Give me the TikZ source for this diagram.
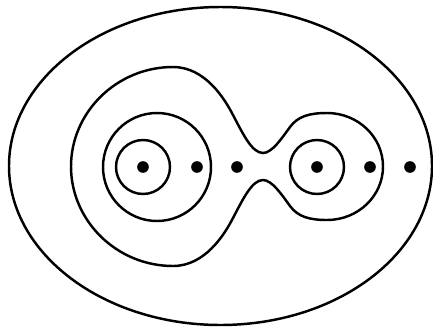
\documentclass[tikz,border=0pt]{standalone}
\usetikzlibrary{positioning}

\begin{document}
\begin{tikzpicture}[
    x=0.03cm, y=-0.03cm,
    puncture/.style={circle, fill=black, inner sep=0pt, minimum size=0.35cm},
    loop/.style={draw=black, line width=2.1pt}]
  \useasboundingbox (0,0) rectangle (433,329);
  %% Punctures on the real axis
  \foreach \n/\x in {p1/143,p2/197,p3/237,p4/317,p5/370,p6/410}
    \node[puncture] (\n) at (\x,167) {};
  %% Small loops
  \draw[loop] (p1) circle[radius=27];
  \draw[loop] (p4) circle[radius=27];
  \draw[loop] (157,167) circle[radius=54];
  %% Peanut curve round both groups
  \draw[loop] (71,166.5) .. controls (71,112) and (117,67) .. (173,67)
    .. controls (205,67) and (224.5,98.5) .. (233,115)
    .. controls (243,134) and (252,153) .. (263,153)
    .. controls (272,153) and (282,138) .. (290,127)
    .. controls (298,116) and (310,113) .. (327,113)
    .. controls (358,113) and (383,137) .. (383,166.5)
    .. controls (383,196) and (358,220) .. (327,220)
    .. controls (310,220) and (298,217) .. (290,206)
    .. controls (282,195) and (272,180) .. (263,180)
    .. controls (252,180) and (243,199) .. (233,218)
    .. controls (224.5,234.5) and (205,266) .. (173,266)
    .. controls (117,266) and (71,221) .. (71,166.5) -- cycle;
  %% Outer loop
  \draw[loop] (220.5,166) ellipse[x radius=211.5, y radius=159];
\end{tikzpicture}
\end{document}
